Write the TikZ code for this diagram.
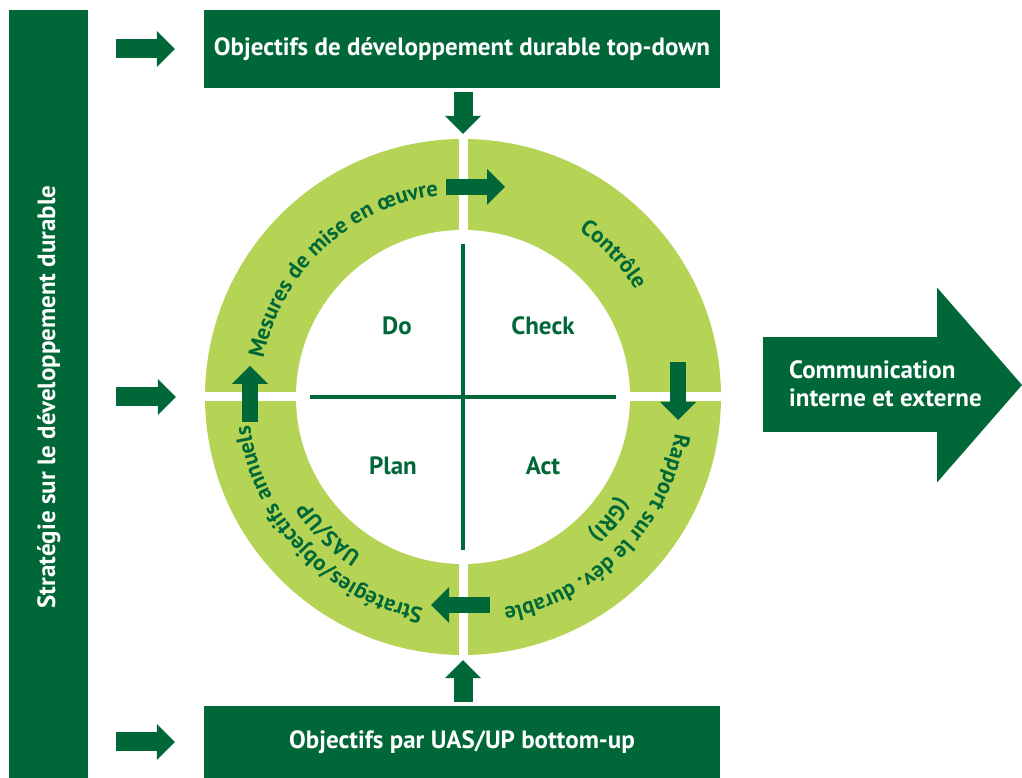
\documentclass[tikz,border=0pt]{standalone}
\usepackage{fontspec}
\setmainfont{PT Sans}
\usetikzlibrary{arrows.meta,decorations.text}
\definecolor{dkgreen}{RGB}{0,104,56}
\definecolor{ltgreen}{RGB}{181,212,86}
\newcommand{\ringfont}{\bfseries\fontsize{22.5}{27}\selectfont}
\tikzset{
  box/.style={fill=dkgreen, text=white, inner sep=0pt, font=\bfseries\fontsize{25}{30}\selectfont},
  bararrow/.style={dkgreen, line width=19pt, -{Triangle[length=18pt, width=36pt, line width=0pt]}},
  ringarrow/.style={dkgreen, line width=16pt, -{Triangle[length=18pt, width=36pt, line width=0pt]}},
  quad/.style={text=dkgreen, font=\bfseries\fontsize{25}{30}\selectfont},
  ringtext/.style={decorate, decoration={text along path, text color=dkgreen, text align=center}}
}
\begin{document}
\begin{tikzpicture}[x=1pt, y=1pt]
\useasboundingbox (0,0) rectangle (1022,778);
% boxes
\node[box, minimum width=79pt, minimum height=768pt, anchor=south west] (strategy) at (9,0) {};
\node[box, minimum width=516pt, minimum height=78pt] (topgoal) at (462,729) {Objectifs de développement durable top-down};
\node[box, minimum width=516pt, minimum height=72pt] (bottomgoal) at (462,36) {Objectifs par UAS/UP bottom-up};
% ring
\node[circle, fill=ltgreen, minimum size=516pt, inner sep=0pt] (ring) at (463,381) {};
\node[circle, fill=white, minimum size=334pt, inner sep=0pt] (hub) at (ring.center) {};
\draw[white, line width=9pt] (ring.north) -- (ring.south);
\draw[white, line width=9pt] (ring.west) -- (ring.east);
\draw[dkgreen, line width=4.5pt] ([yshift=153pt]ring.center) -- ([yshift=-153pt]ring.center);
\draw[dkgreen, line width=4.5pt] ([xshift=-153pt]ring.center) -- ([xshift=153pt]ring.center);
\node[rotate=90, text=white, font=\bfseries\fontsize{25}{30}\selectfont] (strategylabel) at (strategy.center |- ring.center) {Stratégie sur le développement durable};
% quadrants
\node[quad] (do) at ([shift={(-66pt,71pt)}]ring.center) {Do};
\node[quad] (check) at ([shift={(80pt,71pt)}]ring.center) {Check};
\node[quad] (plan) at ([shift={(-70pt,-69pt)}]ring.center) {Plan};
\node[quad] (act) at ([shift={(80pt,-69pt)}]ring.center) {Act};
% ring labels
\path[ringtext, decoration={text={|\ringfont|Mesures de mise en œuvre}}] ([shift={(193:203pt)}]ring.center) arc[start angle=193, end angle=73, radius=203pt];
\path[ringtext, decoration={text={|\ringfont|Contrôle}}] ([shift={(73:203pt)}]ring.center) arc[start angle=73, end angle=14, radius=203pt];
\path[ringtext, decoration={text={|\ringfont|Rapport sur le dév. durable}}] ([shift={(15:215pt)}]ring.center) arc[start angle=15, end angle=-104, radius=215pt];
\path[ringtext, decoration={text={|\ringfont|(GRI)}}] ([shift={(-10:185pt)}]ring.center) arc[start angle=-10, end angle=-70, radius=185pt];
\path[ringtext, decoration={text={|\ringfont|Stratégies/objectifs annuels}}] ([shift={(-77:215pt)}]ring.center) arc[start angle=-77, end angle=-196, radius=215pt];
\path[ringtext, decoration={text={|\ringfont|UAS/UP}}] ([shift={(-104:187pt)}]ring.center) arc[start angle=-104, end angle=-165, radius=187pt];
% arrows
\foreach \target in {topgoal, ring, bottomgoal}
  \draw[bararrow] ([xshift=28pt]strategy.east |- \target.west) -- ([xshift=-29pt]\target.west);
\draw[bararrow] ([yshift=-4pt]ring.north |- topgoal.south) -- ([yshift=5pt]ring.north);
\draw[bararrow] ([yshift=4pt]ring.south |- bottomgoal.north) -- ([yshift=-5pt]ring.south);
\draw[ringarrow] ([shift={(-17pt,210pt)}]ring.center) -- ([shift={(42pt,210pt)}]ring.center);
\draw[ringarrow] ([shift={(215pt,35pt)}]ring.center) -- ([shift={(215pt,-23pt)}]ring.center);
\draw[ringarrow] ([shift={(27pt,-208pt)}]ring.center) -- ([shift={(-32pt,-208pt)}]ring.center);
\draw[ringarrow] ([shift={(-213pt,-25pt)}]ring.center) -- ([shift={(-213pt,31pt)}]ring.center);
% communication
\coordinate (commtail) at (763,393);
\coordinate (commtip) at (1022,393);
\draw[dkgreen, line width=95pt, -{Triangle[length=85pt, width=195pt, line width=0pt]}] (commtail) -- (commtip);
\node[anchor=west, align=left, text=white, inner sep=0pt, font=\bfseries\fontsize{25}{28}\selectfont] (comm) at (789,394) {Communication\\interne et externe};
\end{tikzpicture}
\end{document}
